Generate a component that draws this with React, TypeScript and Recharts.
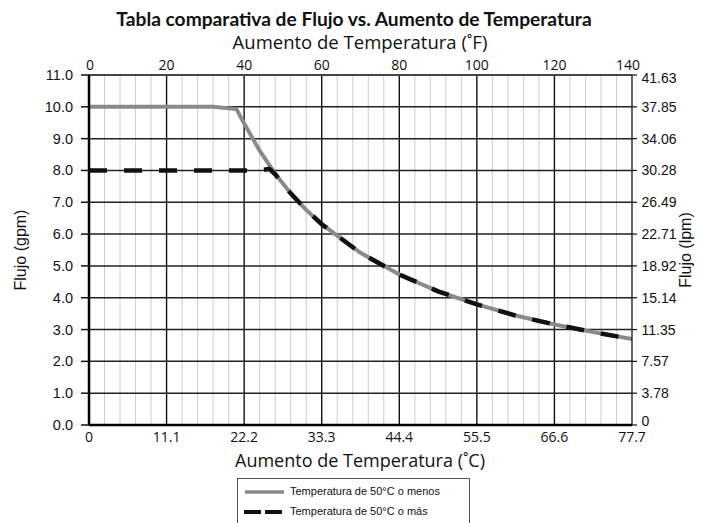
import React from 'react';
import { LineChart, Line, XAxis, YAxis, ReferenceLine } from 'recharts';

// Temperature rise (°F) and flow (gpm) for each series
const menosF = [0, 10, 20, 30, 32, 38, 40, 44, 48, 52, 56, 60, 70, 80, 90, 100, 110, 120, 130, 140];
const menosGpm = [10.0, 10.0, 10.0, 10.0, 10.0, 9.93, 9.48, 8.62, 7.9, 7.28, 6.76, 6.31, 5.41, 4.73, 4.2, 3.79, 3.44, 3.16, 2.92, 2.7];

const masF = [0, 10, 20, 30, 40, 44, 46.5, 48, 52, 56, 60, 70, 80, 90, 100, 110, 120, 130, 140];
const masGpm = [8.0, 8.0, 8.0, 8.0, 8.0, 8.0, 8.05, 7.88, 7.28, 6.76, 6.31, 5.41, 4.73, 4.2, 3.79, 3.44, 3.16, 2.92, 2.7];

const fTicks = [0, 20, 40, 60, 80, 100, 120, 140];
const cLabels = ['0', '11.1', '22.2', '33.3', '44.4', '55.5', '66.6', '77.7'];
const gpmTicks = [0, 1, 2, 3, 4, 5, 6, 7, 8, 9, 10, 11];
const lpmLabels = ['0', '3.78', '7.57', '11.35', '15.14', '18.92', '22.71', '26.49', '30.28', '34.06', '37.85', '41.63'];
const minorF = [4, 8, 12, 16, 24, 28, 32, 36, 44, 48, 52, 56, 64, 68, 72, 76, 84, 88, 92, 96, 104, 108, 112, 116, 124, 128, 132, 136];
const majorF = [20, 40, 60, 80, 100, 120];
const hGrid = [1, 2, 3, 4, 5, 6, 7, 8, 9, 10];

const seriesMenos = menosF.map((f, i) => ({ f, v: menosGpm[i] }));
const seriesMas = masF.map((f, i) => ({ f, v: masGpm[i] }));

const openSans = '"Open Sans", sans-serif';
const arial = '"Liberation Sans", Arial, sans-serif';

const TopTick = (props: any) => {
  const { x, y, payload, index } = props;
  const n = fTicks.length;
  const dx = index === 0 ? 1 : index === n - 1 ? -4 : 0;
  return (
    <text x={x + dx} y={y + 1} textAnchor="middle" fontFamily={openSans} fontSize={14} fill="#111">
      {payload.value}
    </text>
  );
};

const BottomTick = (props: any) => {
  const { x, y, index } = props;
  return (
    <text x={x} y={y + 11} textAnchor="middle" fontFamily={openSans} fontSize={14} fill="#111">
      {cLabels[index]}
    </text>
  );
};

const RightTick = (props: any) => {
  const { x, y, index } = props;
  const n = gpmTicks.length;
  const dy = index === 0 ? -4 : index === n - 1 ? 3 : 0;
  return (
    <text x={x + 2.5} y={y + dy + 5} textAnchor="start" fontFamily={arial} fontSize={14} fill="#111">
      {lpmLabels[index]}
    </text>
  );
};

const LeftTick = (props: any) => {
  const { x, y, payload } = props;
  return (
    <text x={x - 6} y={y + 5} textAnchor="end" fontFamily={arial} fontSize={14.5} fill="#111">
      {payload.value.toFixed(1)}
    </text>
  );
};

export default function App() {
  return (
    <div style={{ position: 'fixed', left: 0, top: 0, width: 706, height: 523, background: '#fff', overflow: 'hidden' }}>
      <LineChart width={706} height={523} margin={{ top: 45, left: 29, right: 14, bottom: 58 }}>
        <XAxis
          xAxisId="top"
          orientation="top"
          type="number"
          dataKey="f"
          domain={[0, 140]}
          ticks={fTicks}
          height={30}
          tick={<TopTick />}
          tickSize={4}
          axisLine={{ stroke: '#444', strokeWidth: 2 }}
          tickLine={{ stroke: 'none' }}
          allowDataOverflow
        />
        <XAxis
          xAxisId="bottom"
          orientation="bottom"
          type="number"
          dataKey="f"
          domain={[0, 140]}
          ticks={fTicks}
          height={40}
          tick={<BottomTick />}
          tickSize={4}
          axisLine={{ stroke: '#000', strokeWidth: 2.5 }}
          tickLine={{ stroke: 'none' }}
          allowDataOverflow
        />
        <YAxis
          yAxisId="left"
          orientation="left"
          type="number"
          domain={[0, 11]}
          ticks={gpmTicks}
          width={60}
          tick={<LeftTick />}
          tickSize={8}
          axisLine={{ stroke: '#000', strokeWidth: 2.5 }}
          tickLine={{ stroke: '#111', strokeWidth: 1.5 }}
          allowDataOverflow
        />
        <YAxis
          yAxisId="right"
          orientation="right"
          type="number"
          domain={[0, 11]}
          ticks={gpmTicks}
          width={60}
          tick={<RightTick />}
          tickSize={5}
          axisLine={{ stroke: '#000', strokeWidth: 1.2 }}
          tickLine={{ stroke: '#111', strokeWidth: 1.2 }}
          allowDataOverflow
        />
        {minorF.map((v) => (
          <ReferenceLine key={'mn' + v} x={v} xAxisId="top" yAxisId="left" stroke="#cdcdcd" strokeWidth={1} />
        ))}
        {majorF.map((v) => (
          <ReferenceLine key={'mj' + v} x={v} xAxisId="top" yAxisId="left" stroke="#111" strokeWidth={1.4} />
        ))}
        {hGrid.map((v) => (
          <ReferenceLine key={'h' + v} y={v} xAxisId="top" yAxisId="left" stroke="#222" strokeWidth={1.5} />
        ))}
        <Line
          data={seriesMenos}
          xAxisId="bottom"
          yAxisId="right"
          dataKey="v"
          type="linear"
          stroke="none"
          dot={false}
          legendType="none"
          isAnimationActive={false}
        />
        <Line
          data={seriesMenos}
          xAxisId="top"
          yAxisId="left"
          dataKey="v"
          type="linear"
          stroke="#8a8a8a"
          strokeWidth={4}
          dot={false}
          isAnimationActive={false}
        />
        <Line
          data={seriesMas}
          xAxisId="top"
          yAxisId="left"
          dataKey="v"
          type="linear"
          stroke="#111"
          strokeWidth={4.5}
          strokeDasharray="18 17"
          dot={false}
          isAnimationActive={false}
        />
      </LineChart>
      <svg width={706} height={523} style={{ position: 'absolute', left: 0, top: 0, pointerEvents: 'none' }}>
        <text x={354} y={26} textAnchor="middle" fontFamily='Lato, "Open Sans", sans-serif' fontWeight={700} fontSize={19.2} fill="#111">
          Tabla comparativa de Flujo vs. Aumento de Temperatura
        </text>
        <text x={360} y={49} textAnchor="middle" fontFamily={openSans} fontSize={18.5} fill="#111">
          Aumento de Temperatura (˚F)
        </text>
        <text x={360} y={467} textAnchor="middle" fontFamily={openSans} fontSize={18} fill="#111">
          Aumento de Temperatura (˚C)
        </text>
        <text x={0} y={0} transform="translate(26 250) rotate(-90)" textAnchor="middle" fontFamily={arial} fontSize={16} fill="#111">
          Flujo (gpm)
        </text>
        <text x={0} y={0} transform="translate(691 250) rotate(-90)" textAnchor="middle" fontFamily={arial} fontSize={16} fill="#111">
          Flujo (lpm)
        </text>
      </svg>
      <div style={{ position: 'absolute', left: 237, top: 478, width: 233, height: 46, border: '1px solid #555', boxSizing: 'border-box', fontFamily: arial, fontSize: 11, color: '#111' }}>
        <svg width={50} height={44} style={{ position: 'absolute', left: 0, top: 0 }}>
          <line x1={7} x2={46} y1={13} y2={13} stroke="#8a8a8a" strokeWidth={3.5} />
          <line x1={6} x2={47} y1={33} y2={33} stroke="#111" strokeWidth={4} strokeDasharray="17 4" />
        </svg>
        <div style={{ position: 'absolute', left: 52, top: 6, whiteSpace: 'nowrap' }}>Temperatura de 50°C o menos</div>
        <div style={{ position: 'absolute', left: 52, top: 26, whiteSpace: 'nowrap' }}>Temperatura de 50°C o más</div>
      </div>
    </div>
  );
}
